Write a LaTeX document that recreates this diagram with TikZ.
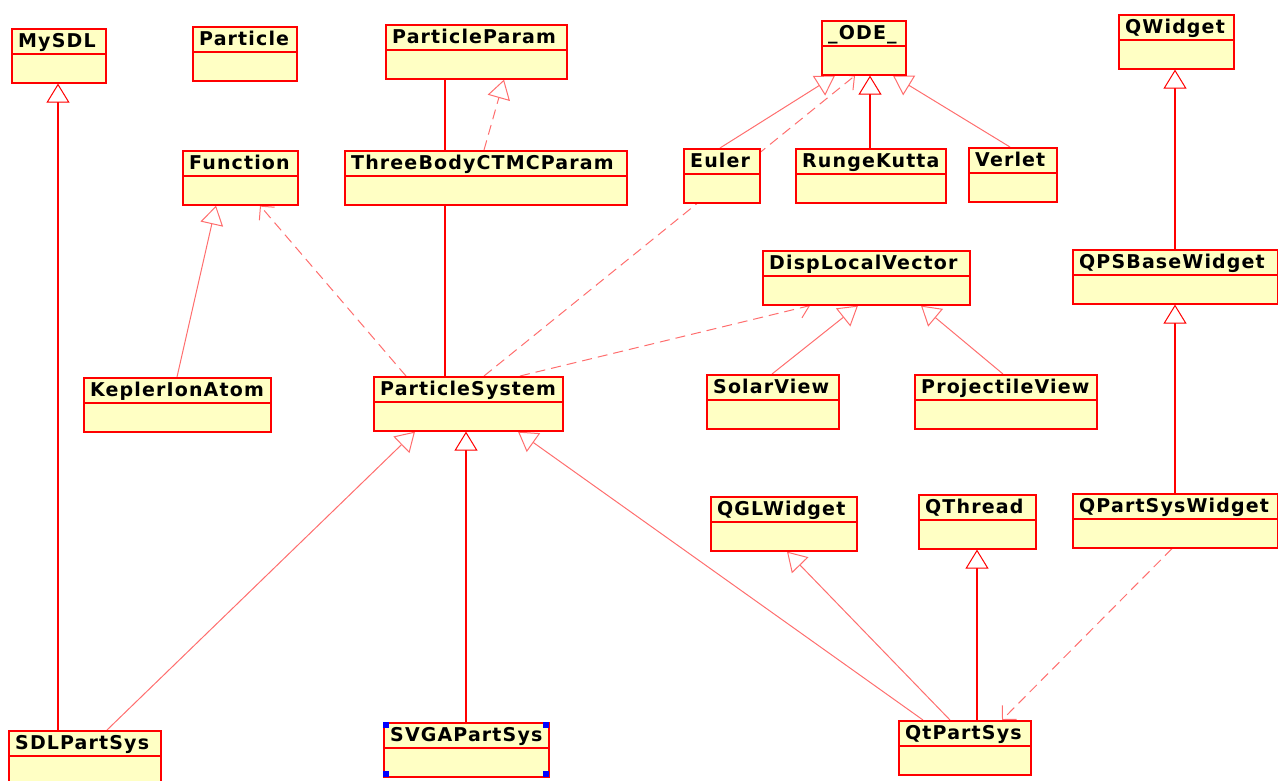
\documentclass[tikz,border=0pt]{standalone}
\usepackage{fontspec}
\newfontfamily\classfont{DejaVu Sans}[LetterSpace=6]
\usetikzlibrary{arrows.meta,backgrounds}
\definecolor{classfill}{RGB}{255,255,196}
\definecolor{linkred}{RGB}{255,110,110}
\tikzset{
  classbox/.style={rectangle, draw=red, line width=1.6pt, fill=classfill,
    anchor=north west, inner sep=0pt, minimum height=54pt},
  classname/.style={anchor=base west, inner sep=0pt,
    font={\classfont\bfseries\fontsize{19pt}{21pt}\selectfont}},
  divider/.style={draw=red, line width=1.4pt},
  handle/.style={fill=blue, inner sep=0pt, minimum size=6pt},
  gen/.style={draw=red, line width=1.6pt,
    -{Triangle[length=19pt, width=23pt, line width=1pt, fill=white]}},
  genthin/.style={draw=linkred, line width=1pt,
    -{Triangle[length=19pt, width=23pt, line width=1pt, fill=white]}},
  realize/.style={genthin, dash pattern=on 10pt off 6pt},
  assoc/.style={draw=red, line width=1.6pt},
  depend/.style={draw=linkred, line width=1pt, dash pattern=on 10pt off 6pt,
    -{Straight Barb[length=10pt, width=20pt, line width=1pt]}}
}
% name, top left corner, width, title
\newcommand{\umlclass}[4]{%
  \node[classbox, minimum width=#3pt] (#1) at (#2) {};
  \draw[divider] ([yshift=-26pt]#1.north west) -- ([yshift=-26pt]#1.north east);
  \node[classname] (#1-name) at ([shift={(7pt,-19pt)}]#1.north west) {#4};
}
\begin{document}
\begin{tikzpicture}[x=1pt, y=-1pt]
  \useasboundingbox (0,0) rectangle (1278,780);
  \clip (0,0) rectangle (1278,780);
  % classes
  \umlclass{MySDL}{11,28}{94}{MySDL}
  \umlclass{Particle}{192,26}{104}{Particle}
  \umlclass{ParticleParam}{385,24}{181}{ParticleParam}
  \umlclass{ODE}{821,20}{84}{\_ODE\_}
  \umlclass{QWidget}{1118,14}{115}{QWidget}
  \umlclass{Function}{182,150}{115}{Function}
  \umlclass{ThreeBody}{344,150}{282}{ThreeBodyCTMCParam}
  \umlclass{Euler}{683,148}{76}{Euler}
  \umlclass{RungeKutta}{795,148}{150}{RungeKutta}
  \umlclass{Verlet}{968,147}{88}{Verlet}
  \umlclass{DispLocalVector}{762,250}{207}{DispLocalVector}
  \umlclass{QPSBaseWidget}{1072,249}{205}{QPSBaseWidget}
  \umlclass{KeplerIonAtom}{83,377}{187}{KeplerIonAtom}
  \umlclass{ParticleSystem}{373,376}{189}{ParticleSystem}
  \umlclass{SolarView}{706,374}{132}{SolarView}
  \umlclass{ProjectileView}{914,374}{182}{ProjectileView}
  \umlclass{QGLWidget}{710,496}{146}{QGLWidget}
  \umlclass{QThread}{918,494}{117}{QThread}
  \umlclass{QPartSysWidget}{1072,493}{205}{QPartSysWidget}
  \umlclass{SDLPartSys}{8,730}{152}{SDLPartSys}
  \umlclass{SVGAPartSys}{383,722}{165}{SVGAPartSys}
  \umlclass{QtPartSys}{898,720}{132}{QtPartSys}
  % selection handles
  \foreach \c/\n in {north west/a, north east/b, south west/c, south east/d}
    \node[handle, anchor=\c] (handle\n) at (SVGAPartSys.\c) {};
  \begin{scope}[on background layer]
    % generalisations
    \draw[gen] ([xshift=50pt]SDLPartSys.north west) -- ([xshift=47pt]MySDL.south west);
    \draw[gen] ([xshift=75pt]RungeKutta.north west) -- ([xshift=49pt]ODE.south west);
    \draw[gen] ([xshift=103pt]QPSBaseWidget.north west) -- ([xshift=57pt]QWidget.south west);
    \draw[gen] ([xshift=103pt]QPartSysWidget.north west) -- ([xshift=103pt]QPSBaseWidget.south west);
    \draw[gen] ([xshift=83pt]SVGAPartSys.north west) -- ([xshift=93pt]ParticleSystem.south west);
    \draw[gen] ([xshift=79pt]QtPartSys.north west) -- ([xshift=59pt]QThread.south west);
    \draw[genthin] ([xshift=94pt]KeplerIonAtom.north west) -- ([xshift=34pt]Function.south west);
    \draw[genthin] ([xshift=37pt]Euler.north west) -- ([xshift=14pt]ODE.south west);
    \draw[genthin] ([xshift=42pt]Verlet.north west) -- ([xshift=72pt]ODE.south west);
    \draw[genthin] ([xshift=66pt]SolarView.north west) -- ([xshift=96pt]DispLocalVector.south west);
    \draw[genthin] ([xshift=89pt]ProjectileView.north west) -- ([xshift=159pt]DispLocalVector.south west);
    \draw[genthin] ([xshift=99pt]SDLPartSys.north west) -- ([xshift=42pt]ParticleSystem.south west);
    \draw[genthin] ([xshift=25pt]QtPartSys.north west) -- ([xshift=145pt]ParticleSystem.south west);
    \draw[genthin] ([xshift=52pt]QtPartSys.north west) -- ([xshift=77pt]QGLWidget.south west);
    \draw[realize] ([xshift=140pt]ThreeBody.north west) -- ([xshift=119pt]ParticleParam.south west);
    % associations
    \draw[assoc] ([xshift=60pt]ParticleParam.south west) -- ([xshift=101pt]ThreeBody.north west);
    \draw[assoc] ([xshift=101pt]ThreeBody.south west) -- ([xshift=72pt]ParticleSystem.north west);
    % dependencies
    \draw[depend] ([xshift=33pt]ParticleSystem.north west) -- ([xshift=78pt]Function.south west);
    \draw[depend] ([xshift=111pt]ParticleSystem.north west) -- ([xshift=34pt]ODE.south west);
    \draw[depend] ([xshift=147pt]ParticleSystem.north west) -- ([xshift=48pt]DispLocalVector.south west);
    \draw[depend] ([xshift=100pt]QPartSysWidget.south west) -- ([xshift=104pt]QtPartSys.north west);
  \end{scope}
\end{tikzpicture}
\end{document}
